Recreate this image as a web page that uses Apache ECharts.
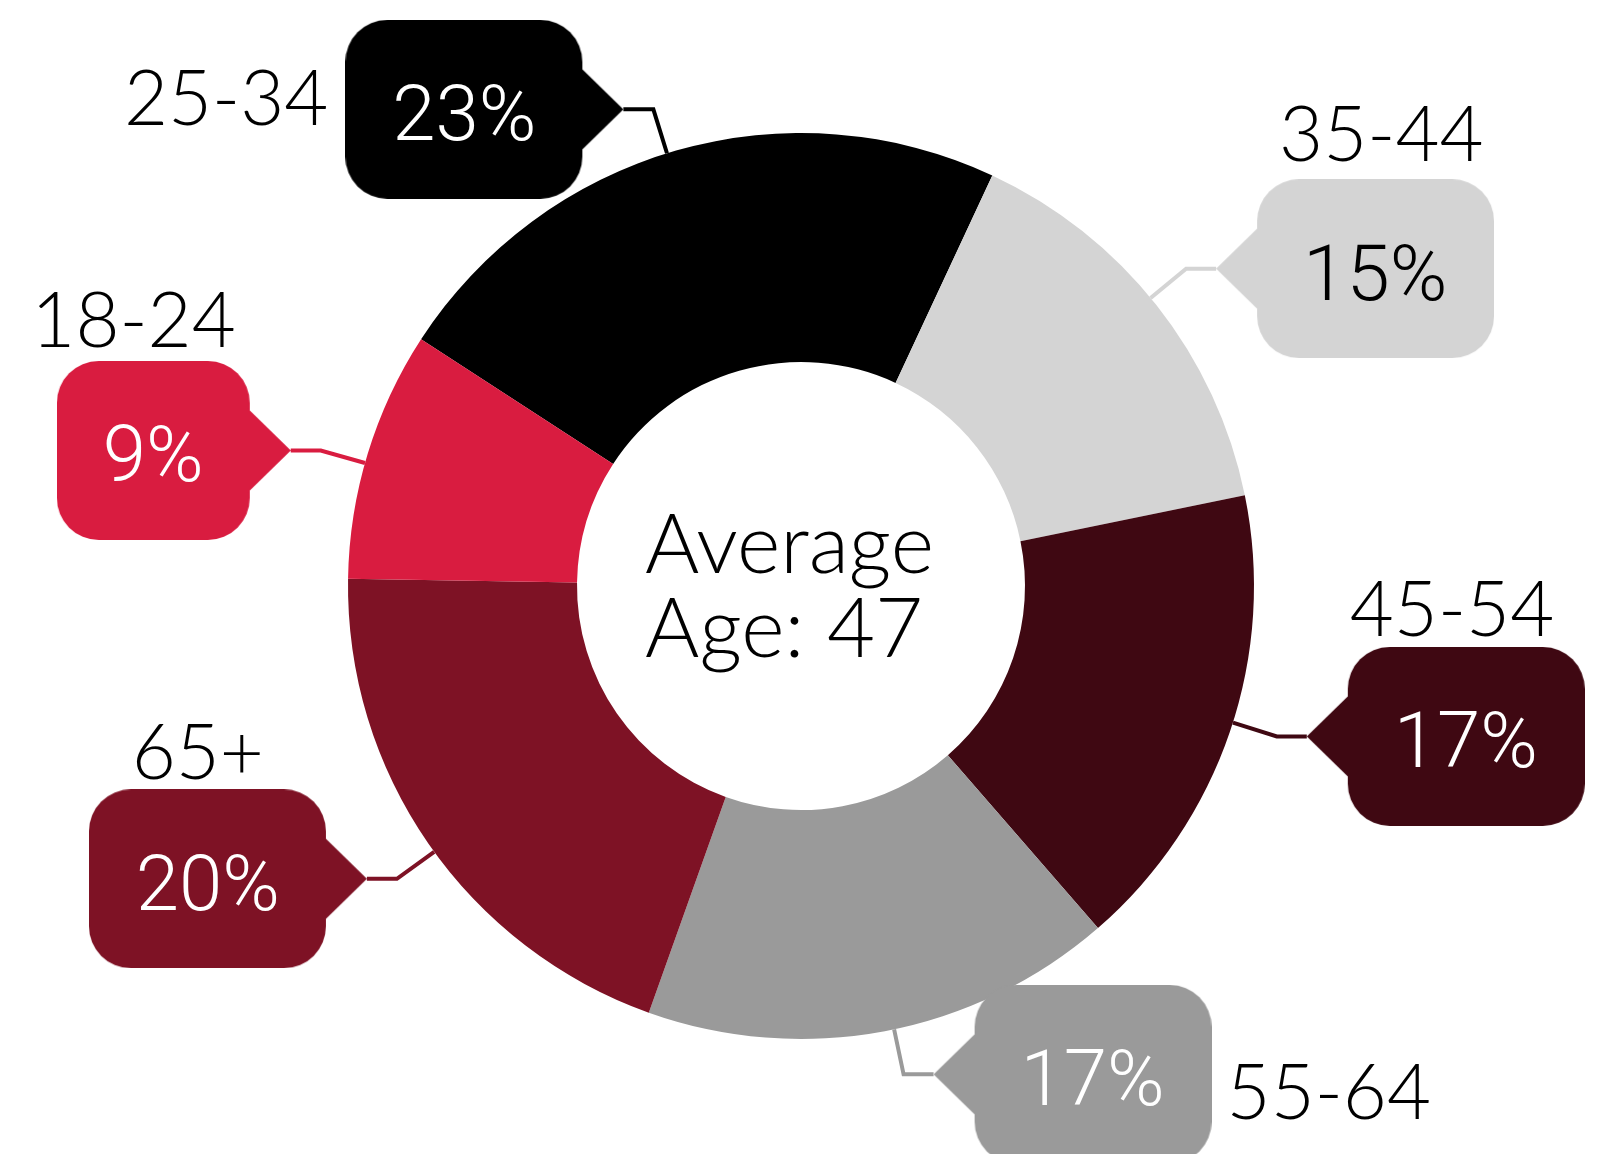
<!DOCTYPE html>
<html>
<head>
<meta charset="utf-8">
<title>Average Age</title>
<script src="https://cdn.jsdelivr.net/npm/echarts@6/dist/echarts.min.js"></script>
<style>
  html, body { margin: 0; padding: 0; background: #ffffff; }
  #box { width: 1604px; height: 1154px; }
</style>
</head>
<body>
<div id="box"></div>
<script>
// data
var ageGroups = ['25-34', '35-44', '45-54', '55-64', '65+', '18-24'];
var shares = [23, 15, 17, 17, 20, 9];
var sliceColors = ['#000000', '#d4d4d4', '#3f0812', '#9a9a9a', '#7e1225', '#d91c40'];
var pctColors = ['#ffffff', '#000000', '#ffffff', '#ffffff', '#ffffff', '#ffffff'];
var averageAge = 47;

// where the age name sits around each callout (layout only)
var namePlace = [
    { side: 'left', mode: 'before', pad: [0, 17, 18, 0] },
    { side: 'right', mode: 'above', lh: 85, pad: [0, 0, 0, 63] },
    { side: 'right', mode: 'above', lh: 71, pad: [0, 0, 0, 43] },
    { side: 'right', mode: 'after', pad: [40, 0, 0, 15] },
    { side: 'left', mode: 'above', lh: 70, pad: [0, 103, 0, 0] },
    { side: 'left', mode: 'above', lh: 76, pad: [0, 55, 0, 0] }
];

var PCT_FONT = '350 78px Roboto';
var BOX_H = 179, ARROW_W = 41, ARROW_H = 84, RADIUS = 42, PAD_X = 46;
var START = 147;          // slices
var LABEL_START = 148.2;  // the callout lines in the picture sit a bit earlier than the slice middles

var measureCtx = document.createElement('canvas').getContext('2d');
function textWidth(txt) {
    measureCtx.font = PCT_FONT;
    return Math.ceil(measureCtx.measureText(txt).width);
}

// rounded box + pointer painted as one picture, used as the label background
function calloutCanvas(color, boxW, arrowLeft) {
    var W = boxW + ARROW_W, H = BOX_H, r = RADIUS;
    var c = document.createElement('canvas');
    c.width = W;
    c.height = H;
    var g = c.getContext('2d');
    g.fillStyle = color;
    var bx = arrowLeft ? ARROW_W : 0;
    g.beginPath();
    g.moveTo(bx + r, 0);
    g.arcTo(bx + boxW, 0, bx + boxW, H, r);
    g.arcTo(bx + boxW, H, bx, H, r);
    g.arcTo(bx, H, bx, 0, r);
    g.arcTo(bx, 0, bx + boxW, 0, r);
    g.closePath();
    g.fill();
    var mid = H / 2, half = ARROW_H / 2;
    g.beginPath();
    if (arrowLeft) {
        g.moveTo(ARROW_W + 2, mid - half); g.lineTo(0, mid); g.lineTo(ARROW_W + 2, mid + half);
    } else {
        g.moveTo(boxW - 2, mid - half); g.lineTo(W, mid); g.lineTo(boxW - 2, mid + half);
    }
    g.closePath();
    g.fill();
    return c;
}

function buildLabel(i) {
    var p = namePlace[i];
    var left = p.side === 'left';
    var pctText = shares[i] + '%';
    var tw = textWidth(pctText);
    var boxW = tw + PAD_X * 2;
    var callout = '{box|' + pctText + '}';
    var age = '{age|' + ageGroups[i] + '}';
    var text;
    if (p.mode === 'before') text = age + callout;
    else if (p.mode === 'after') text = callout + age;
    else text = age + '\n' + callout + '\n{sp| }';
    var tokAlign = left ? 'right' : 'left';

    var ageStyle = {
        fontFamily: 'Lato', fontWeight: 300, fontSize: 76, color: '#000000',
        align: tokAlign, verticalAlign: 'middle', padding: p.pad
    };
    if (p.lh) ageStyle.lineHeight = p.lh;

    return {
        show: true,
        formatter: text,
        rich: {
            age: ageStyle,
            box: {
                fontFamily: 'Roboto', fontWeight: 350, fontSize: 78, color: pctColors[i],
                width: tw,
                padding: left ? [62, PAD_X + ARROW_W, 39, PAD_X] : [62, PAD_X, 39, PAD_X + ARROW_W],
                align: tokAlign, verticalAlign: 'middle',
                backgroundColor: { image: calloutCanvas(sliceColors[i], boxW, !left) }
            },
            sp: { fontSize: 10, lineHeight: p.lh || 10 }
        }
    };
}

var myChart = echarts.init(document.getElementById('box'));

var option = {
    backgroundColor: '#ffffff',
    animation: false,
    graphic: [{
        type: 'text',
        left: 645,
        top: 504,
        style: {
            text: 'Average\nAge: ' + averageAge,
            fontFamily: 'Lato',
            fontWeight: 300,
            fontSize: 83,
            lineHeight: 84,
            fill: '#000000'
        }
    }],
    series: [{
        // the donut itself
        type: 'pie',
        center: [801, 586],
        radius: [224, 453],
        startAngle: START,
        clockwise: true,
        silent: true,
        label: { show: false },
        labelLine: { show: false },
        data: ageGroups.map(function (g, i) {
            return { name: g, value: shares[i], itemStyle: { color: sliceColors[i] } };
        })
    }, {
        // same data again, only for the callouts
        type: 'pie',
        center: [801, 586],
        radius: [224, 453],
        startAngle: LABEL_START,
        clockwise: true,
        avoidLabelOverlap: false,
        silent: true,
        itemStyle: { color: 'rgba(0,0,0,0)' },
        label: {
            show: true,
            position: 'outside',
            distanceToLabelLine: 0
        },
        labelLine: {
            show: true,
            length: 46,
            length2: 30,
            lineStyle: { width: 4 }
        },
        data: ageGroups.map(function (g, i) {
            return {
                name: g,
                value: shares[i],
                label: buildLabel(i),
                labelLine: { lineStyle: { color: sliceColors[i], width: 4 } }
            };
        })
    }]
};

myChart.setOption(option);
</script>
</body>
</html>
